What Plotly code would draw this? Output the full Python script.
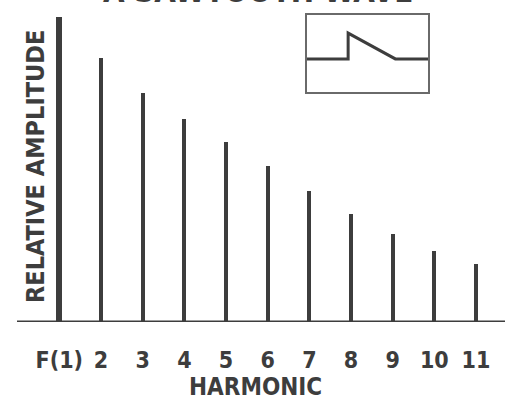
import plotly.graph_objects as go

# harmonic spectrum of a sawtooth wave
harmonics = [1, 2, 3, 4, 5, 6, 7, 8, 9, 10, 11]
tick_labels = ["F(1)", "2", "3", "4", "5", "6", "7", "8", "9", "10", "11"]
amplitude = [100, 86.6, 75.1, 66.6, 59.0, 51.1, 43.0, 35.4, 28.9, 23.3, 19.0]

# small inset: one period of the wave
wave_x = [0, 0.34, 0.34, 0.73, 1.0]
wave_y = [0, 0, 1, 0, 0]

INK = "#3d3d3d"
FONT = "DejaVu Sans Condensed, DejaVu Sans, sans-serif"

W, H = 505, 398
BOTTOM = 76  # baseline sits 76px above the bottom edge
PLOT_H = H - BOTTOM

fig = go.Figure()

# the fundamental doubles as the vertical axis line, so it is a bit thicker
widths = [0.15] + [0.095] * (len(harmonics) - 1)
fig.add_trace(go.Bar(
    x=harmonics, y=amplitude, width=widths,
    marker=dict(color=INK, line=dict(width=0)),
    hoverinfo="skip", showlegend=False,
))

# inset waveform
fig.add_trace(go.Scatter(
    x=wave_x, y=wave_y, mode="lines", xaxis="x2", yaxis="y2",
    line=dict(color=INK, width=3), hoverinfo="skip", showlegend=False,
))

# baseline that runs past the vertical axis to the left
fig.add_shape(type="line", xref="paper", yref="y", x0=17 / W, x1=1, y0=0, y1=0,
              line=dict(color=INK, width=3))

# harmonic 2 sits at 101px, harmonic 11 at 476px
px_x = (476 - 101) / 9
fig.update_layout(
    width=W, height=H,
    margin=dict(l=0, r=0, t=0, b=BOTTOM),
    plot_bgcolor="white", paper_bgcolor="white",
    bargap=0,
    xaxis=dict(
        range=[2 - 101 / px_x, 11 + (W - 476) / px_x],
        tickvals=harmonics, ticktext=tick_labels,
        ticks="", showgrid=False, zeroline=False, showline=False,
        ticklabelstandoff=22,
        tickfont=dict(family=FONT, size=23, color=INK, weight="bold"),
    ),
    yaxis=dict(
        range=[0, 100 * PLOT_H / 305],
        visible=False, showgrid=False, zeroline=False,
    ),
    xaxis2=dict(domain=[307 / W, 428 / W], range=[0, 1], anchor="y2",
                showline=True, mirror=True, linecolor="#6a6a6a", linewidth=2,
                showticklabels=False, ticks="", showgrid=False, zeroline=False),
    yaxis2=dict(domain=[1 - 92 / PLOT_H, 1 - 15 / PLOT_H], range=[-1.28, 1.70], anchor="x2",
                showline=True, mirror=True, linecolor="#6a6a6a", linewidth=2,
                showticklabels=False, ticks="", showgrid=False, zeroline=False),
    annotations=[
        dict(text="HARMONIC", xref="paper", yref="paper", x=255 / W, y=-(387 - PLOT_H) / PLOT_H,
             xanchor="center", yanchor="middle", showarrow=False,
             font=dict(family=FONT, size=24, color=INK, weight="bold")),
        dict(text="RELATIVE AMPLITUDE", xref="paper", yref="paper", x=35 / W, y=1 - 167 / PLOT_H,
             xanchor="center", yanchor="middle", textangle=-90, showarrow=False,
             font=dict(family=FONT, size=25, color=INK, weight="bold")),
        dict(text="A SAWTOOTH WAVE", xref="paper", yref="paper", x=258 / W, y=1 - 10.5 / PLOT_H,
             xanchor="center", yanchor="bottom", showarrow=False,
             font=dict(family=FONT, size=31, color=INK, weight="bold")),
    ],
)

# drop the page's default body margin so the figure sits at the window's corner
fig.write_html("out.html", config={"displayModeBar": False},
               post_script="document.body.style.margin='0';")
